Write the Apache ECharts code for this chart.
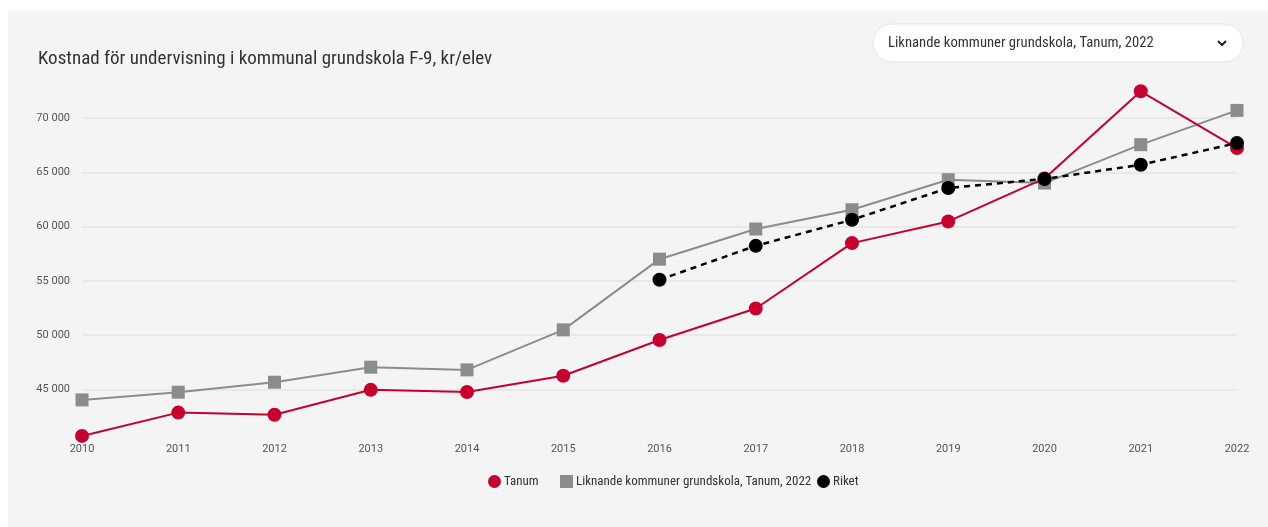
<!DOCTYPE html>
<html>
<head>
<meta charset="utf-8">
<script src="https://cdn.jsdelivr.net/npm/echarts@6/dist/echarts.min.js"></script>
<style>
  html, body { margin: 0; padding: 0; background: #ffffff; }
  #panel { position: absolute; left: 8px; top: 10px; right: 0; bottom: 0; background: #f4f4f4; }
  #chart { position: absolute; left: 0; top: 0; width: 1268px; height: 527px; }
</style>
</head>
<body>
<div id="panel"></div>
<div id="chart"></div>
<script>
// Cost of teaching in municipal compulsory school, SEK per pupil
const years = ['2010','2011','2012','2013','2014','2015','2016','2017','2018','2019','2020','2021','2022'];
const tanum = [40700, 42850, 42650, 44950, 44750, 46250, 49550, 52450, 58480, 60480, 64450, 72480, 67250];
const liknande = [44020, 44730, 45650, 47040, 46790, 50480, 57000, 59780, 61560, 64330, 64020, 67560, 70720];
const riket = [null, null, null, null, null, null, 55100, 58230, 60630, 63560, 64400, 65710, 67710];

const seriesNames = ['Tanum', 'Liknande kommuner grundskola, Tanum, 2022', 'Riket'];
const titleText = 'Kostnad för undervisning i kommunal grundskola F-9, kr/elev';
const selectText = 'Liknande kommuner grundskola, Tanum, 2022';

const narrow = '"Liberation Sans Narrow", "Roboto Condensed", Roboto, sans-serif';
const fmt = v => String(v).replace(/\B(?=(\d{3})+(?!\d))/g, ' ');

// one legend block per series so each entry sits at its own position
const legendLefts = [483, 555, 812];
const legendIcons = ['circle', 'rect', 'circle'];
const legends = seriesNames.map((name, i) => ({
  left: legendLefts[i],
  top: 470,
  itemWidth: 13,
  itemHeight: 13,
  itemGap: 0,
  textStyle: { fontSize: 13, color: '#333333', fontFamily: narrow, padding: [0, 0, 0, -2] },
  data: [{ name, icon: legendIcons[i] }]
}));

const chart = echarts.init(document.getElementById('chart'), null, { renderer: 'canvas' });
chart.setOption({
  animation: false,
  backgroundColor: 'transparent',
  textStyle: { fontFamily: 'Roboto, sans-serif' },
  title: {
    text: titleText,
    left: 33,
    top: 45,
    textStyle: { fontSize: 19, fontWeight: 'normal', color: '#333333', fontFamily: narrow }
  },
  graphic: [
    {
      type: 'rect',
      shape: { x: 873, y: 24, width: 370, height: 38, r: 19 },
      style: { fill: '#ffffff', stroke: '#e3e3e3', lineWidth: 1 }
    },
    {
      type: 'text',
      x: 888, y: 43,
      style: { text: selectText, fontSize: 14.7, fill: '#333333', fontFamily: narrow, verticalAlign: 'middle' }
    },
    {
      type: 'polyline',
      shape: { points: [[1218, 41], [1222, 45], [1226, 41]] },
      style: { stroke: '#222222', lineWidth: 2, fill: null }
    }
  ],
  legend: legends,
  grid: { left: 82, right: 31, top: 64, bottom: 83.5, containLabel: false },
  xAxis: {
    type: 'category',
    data: years,
    boundaryGap: false,
    axisLine: { show: false },
    axisTick: { show: false },
    axisLabel: { fontSize: 11, color: '#555555', margin: 0 }
  },
  yAxis: {
    type: 'value',
    min: 40000,
    max: 75000,
    interval: 5000,
    axisLine: { show: false },
    axisTick: { show: false },
    axisLabel: {
      fontSize: 11, color: '#555555', margin: 12,
      showMinLabel: false, showMaxLabel: false,
      formatter: fmt
    },
    splitLine: {
      lineStyle: {
        color: ['transparent', '#e4e4e4', '#e4e4e4', '#e4e4e4', '#e4e4e4', '#e4e4e4', '#e4e4e4', 'transparent'],
        width: 1.5
      }
    }
  },
  series: [
    {
      name: seriesNames[0], type: 'line', data: tanum, z: 3,
      symbol: 'circle', symbolSize: 14,
      itemStyle: { color: '#c5002e' },
      lineStyle: { color: '#c5002e', width: 2 }
    },
    {
      name: seriesNames[1], type: 'line', data: liknande, z: 2,
      symbol: 'rect', symbolSize: 13,
      itemStyle: { color: '#8c8c8c' },
      lineStyle: { color: '#8c8c8c', width: 2 }
    },
    {
      name: seriesNames[2], type: 'line', data: riket, z: 4,
      symbol: 'circle', symbolSize: 14,
      itemStyle: { color: '#000000' },
      lineStyle: { color: '#000000', width: 2.5, type: [6, 5] }
    }
  ]
});
</script>
</body>
</html>
